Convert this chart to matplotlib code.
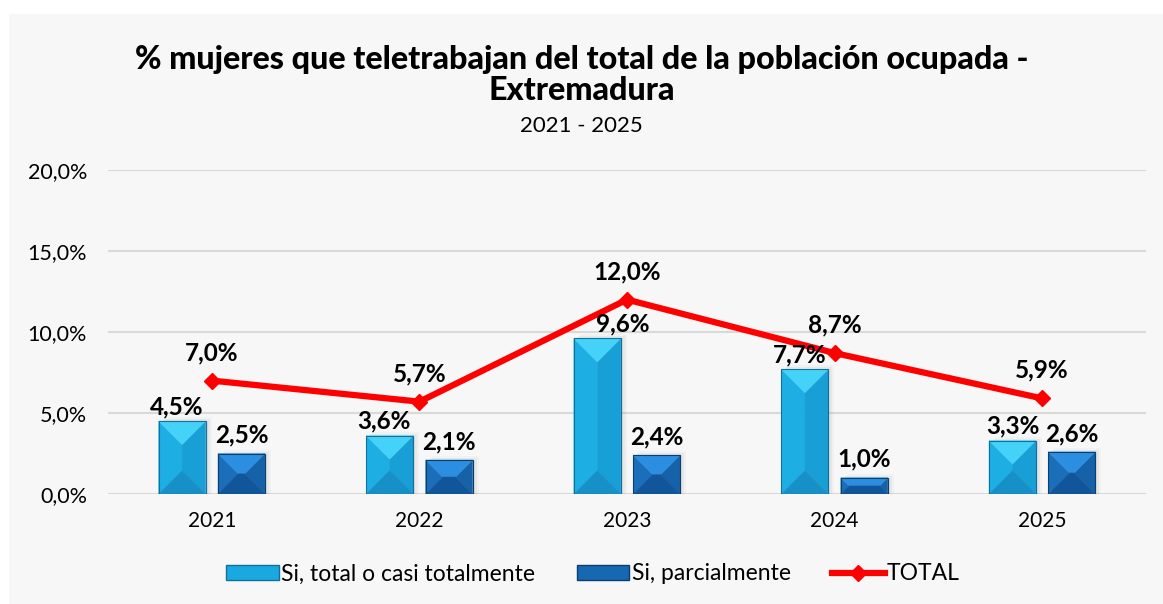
import matplotlib
matplotlib.use("Agg")
import matplotlib.pyplot as plt
from matplotlib.patches import Polygon, Rectangle
from matplotlib.lines import Line2D
import numpy as np

years = ["2021", "2022", "2023", "2024", "2025"]
total_casi = [4.5, 3.6, 9.6, 7.7, 3.3]      # Si, total o casi totalmente
parcial = [2.5, 2.1, 2.4, 1.0, 2.6]         # Si, parcialmente
total = [7.0, 5.7, 12.0, 8.7, 5.9]          # TOTAL

TITLE = "% mujeres que teletrabajan del total de la población ocupada -\nExtremadura"
SUBTITLE = "2021 - 2025"

FONT = ["Lato", "DejaVu Sans"]

LIGHT = dict(face="#19A9E0", left="#1DAEE4", right="#179FD6", top="#45D2F8",
             bottom="#1690C6", edge="#11709C")
DARK = dict(face="#1768B2", left="#1A6EBA", right="#1562A8", top="#2C8EE0",
            bottom="#11569A", edge="#0B3F6E")


def fmt(v):
    return f"{v:.1f}%".replace(".", ",")


W, H, DPI = 11.63, 6.04, 100
fig = plt.figure(figsize=(W, H), dpi=DPI, facecolor="white")
fig.patches.append(Rectangle((9 / 1163, 0), 1, 1 - 14 / 604, transform=fig.transFigure,
                             facecolor="#F7F7F7", edgecolor="none", zorder=-10))

ax_l, ax_b, ax_w, ax_h = 108 / 1163, 110 / 604, 1038 / 1163, 324 / 604
ax = fig.add_axes([ax_l, ax_b, ax_w, ax_h])
ax.set_facecolor("none")
ax.set_xlim(-0.5, 4.5)
ax.set_ylim(0, 20)

# data units per pixel, used for the bevel geometry
px_x = 5.0 / (ax_w * W * DPI)
px_y = 20.0 / (ax_h * H * DPI)

bar_w = 0.226
off = 0.143


def bevel_bar(xc, h, c):
    x0, x1 = xc - bar_w / 2, xc + bar_w / 2
    wpx = bar_w / px_x
    hpx = h / px_y
    d = min(wpx / 2, hpx / 2)
    dx, dy = d * px_x, d * px_y
    # soft shadow to the right
    for k, a in [(6, 0.03), (4, 0.05), (2, 0.07)]:
        ax.add_patch(Rectangle((x0 + k * px_x, 0), bar_w, h + (k - 2) * px_y,
                               facecolor="#404040", alpha=a, edgecolor="none", zorder=2))
    ix0, ix1, iy0, iy1 = x0 + dx, x1 - dx, dy, h - dy
    faces = [
        ([(x0, 0), (ix0, iy0), (ix0, iy1), (x0, h)], c["left"]),
        ([(x1, 0), (ix1, iy0), (ix1, iy1), (x1, h)], c["right"]),
        ([(x0, h), (x1, h), (ix1, iy1), (ix0, iy1)], c["top"]),
        ([(x0, 0), (x1, 0), (ix1, iy0), (ix0, iy0)], c["bottom"]),
    ]
    for pts, col in faces:
        ax.add_patch(Polygon(pts, closed=True, facecolor=col, edgecolor=col,
                             linewidth=0.3, zorder=3))
    if ix1 > ix0:
        ax.add_patch(Rectangle((ix0, iy0), ix1 - ix0, iy1 - iy0, facecolor=c["face"],
                               edgecolor="none", zorder=3))
    ax.add_patch(Rectangle((x0, 0), bar_w, h, facecolor="none", edgecolor=c["edge"],
                           linewidth=0.8, zorder=4))


x = np.arange(len(years))
for i in range(len(years)):
    bevel_bar(x[i] - off, total_casi[i], LIGHT)
    bevel_bar(x[i] + off, parcial[i], DARK)

ax.plot(x, total, color="#FF0000", linewidth=4.5, marker="D", markersize=8,
        zorder=5, solid_joinstyle="miter")

lab_kw = dict(ha="center", fontsize=17.5, fontweight="bold", family=FONT, color="black",
              zorder=6, textcoords="offset points")
shift_light = [-4, -4, 18, -4, 0]
for i in range(len(years)):
    ax.annotate(fmt(total_casi[i]), (x[i] - off, total_casi[i]),
                xytext=(shift_light[i], 2), va="bottom", **lab_kw)
    ax.annotate(fmt(parcial[i]), (x[i] + off, parcial[i]),
                xytext=(0, 5), va="bottom", **lab_kw)
    ax.annotate(fmt(total[i]), (x[i], total[i]), xytext=(0, 12), va="bottom", **lab_kw)

ax.set_yticks([0, 5, 10, 15, 20])
ax.set_yticklabels([fmt(v) for v in [0, 5, 10, 15, 20]], family=FONT, fontsize=15.5)
ax.set_xticks(x)
ax.set_xticklabels(years, family=FONT, fontsize=15)
ax.tick_params(length=0)
ax.tick_params(axis="y", pad=15)
ax.tick_params(axis="x", pad=12)
ax.grid(axis="y", color="#D9D9D9", linewidth=1.5)
ax.set_axisbelow(True)
for s in ax.spines.values():
    s.set_visible(False)

fig.text(0.5, 1 - 75 / 604, TITLE, ha="center", va="center", fontsize=23.2,
         fontweight="black", family=FONT, linespacing=1.1)
fig.text(0.5, 1 - 126 / 604, SUBTITLE, ha="center", va="center", fontsize=16, family=FONT)

handles = [
    Rectangle((0, 0), 1, 1, facecolor=LIGHT["face"], edgecolor=LIGHT["edge"]),
    Rectangle((0, 0), 1, 1, facecolor=DARK["face"], edgecolor=DARK["edge"]),
    Line2D([], [], color="#FF0000", linewidth=4.5, marker="D", markersize=8),
]
fig.legend(handles, ["Si, total o casi totalmente", "Si, parcialmente", "TOTAL"],
           loc="center", bbox_to_anchor=(0.51, 1 - 574 / 604), ncol=3, frameon=False,
           prop={"family": FONT, "size": 16.5}, handlelength=2.3, handleheight=0.6,
           handletextpad=0.1, columnspacing=1.8)

fig.savefig("out.png", dpi=DPI, facecolor="white")
